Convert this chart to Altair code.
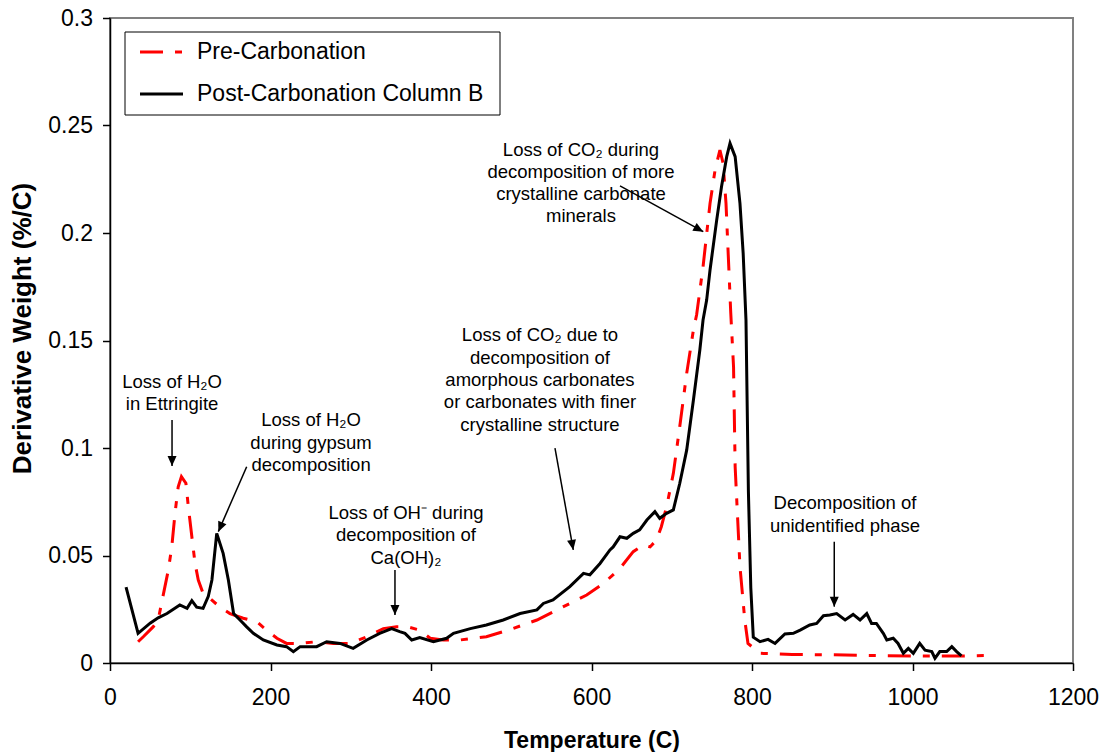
import math
import altair as alt
import pandas as pd

# ---------------- data ----------------
temp_ticks = [0, 200, 400, 600, 800, 1000, 1200]
deriv_ticks = [0, 0.05, 0.1, 0.15, 0.2, 0.25, 0.3]
series_names = ["Pre-Carbonation", "Post-Carbonation Column B"]

post_T = [20, 35, 50, 60, 71, 87, 96, 102, 108, 116,
          122.5, 127, 133, 141, 147.5, 154, 162, 170, 178.6, 191,
          208, 220, 228.5, 237, 257.5, 270, 286.6, 303, 320, 336,
          351, 361, 367.6, 376, 386, 403, 419.5, 428, 449, 469,
          490, 511, 532, 540, 552, 573, 590, 598, 610.6, 623,
          627, 635.5, 644, 652, 660, 669, 679, 685, 693.6, 702,
          710, 718.6, 727, 735, 739, 743.5, 747.7, 756, 762, 768.5,
          772.6, 779, 785, 789, 792.5, 795.5, 798.5, 801.6, 810, 820,
          828.7, 841, 851.5, 860, 872, 880.6, 889, 897, 905.5, 916,
          926, 934.6, 943, 949, 955, 963.6, 968, 976, 982, 988.6,
          994.8, 1001, 1009, 1015.6, 1024, 1028, 1034, 1042.6, 1049, 1055,
          1061]
post_v = [0.0353, 0.0138, 0.0185, 0.021, 0.023, 0.027, 0.0254, 0.029, 0.026, 0.0254,
          0.031, 0.0386, 0.0603, 0.051, 0.0386, 0.023, 0.020, 0.0169, 0.0138, 0.0107,
          0.0084, 0.0076, 0.0053, 0.0076, 0.0076, 0.0099, 0.0091, 0.0068, 0.0107, 0.0138,
          0.016, 0.0146, 0.0138, 0.0107, 0.0118, 0.0099, 0.0115, 0.0138, 0.016, 0.0177,
          0.020, 0.023, 0.0247, 0.0277, 0.0293, 0.0355, 0.0417, 0.041, 0.0463, 0.0526,
          0.054, 0.0587, 0.058, 0.0603, 0.0619, 0.0665, 0.0704, 0.0673, 0.0696, 0.0712,
          0.0836, 0.099, 0.1223, 0.1456, 0.1595, 0.1688, 0.1828, 0.206, 0.2215, 0.2355,
          0.2417, 0.2355, 0.2138, 0.1905, 0.1595, 0.080, 0.035, 0.012, 0.0099, 0.011,
          0.0091, 0.0135, 0.0138, 0.0153, 0.0177, 0.0184, 0.022, 0.0223, 0.023, 0.020,
          0.0226, 0.020, 0.023, 0.0184, 0.0184, 0.0138, 0.0107, 0.0115, 0.0091, 0.0045,
          0.0068, 0.0045, 0.0091, 0.006, 0.0053, 0.0022, 0.0053, 0.0053, 0.0076, 0.0053,
          0.0033]

pre_T = [35, 41.5, 54, 60, 66, 72.7, 77, 81, 85, 89,
         94.6, 97.6, 102, 106, 110, 116, 124.6, 137, 149.5, 166,
         183, 195, 208, 220, 237, 257.5, 278, 299, 320, 340.6,
         357, 370, 386, 399, 415, 436, 469, 502, 532, 573,
         594, 615, 635.5, 652, 664.6, 673, 681, 687, 693.6, 702,
         710, 718.6, 727, 731, 739, 747.7, 754, 760, 764, 767.6,
         770.5, 773.5, 777, 779, 785, 791, 795, 810, 850, 900,
         950, 1000, 1050, 1100]
pre_v = [0.0099, 0.0122, 0.0169, 0.020, 0.031, 0.0433, 0.054, 0.0696, 0.082, 0.0867,
         0.0836, 0.0727, 0.0587, 0.0463, 0.0386, 0.0324, 0.030, 0.026, 0.023, 0.0208,
         0.0192, 0.0153, 0.0115, 0.0091, 0.0091, 0.0099, 0.0091, 0.0091, 0.0122, 0.016,
         0.0169, 0.0169, 0.0153, 0.0115, 0.0107, 0.0107, 0.0122, 0.016, 0.020, 0.0277,
         0.0316, 0.037, 0.044, 0.0518, 0.0549, 0.054, 0.0572, 0.0634, 0.0727, 0.0882,
         0.110, 0.1347, 0.1549, 0.162, 0.1843, 0.2138, 0.2293, 0.2386, 0.2324, 0.2138,
         0.189, 0.163, 0.1378, 0.0913, 0.0448, 0.020, 0.0091, 0.0045, 0.004, 0.0038,
         0.0035, 0.0033, 0.0032, 0.0035]

note_text = ["Loss of H₂O", "in Ettringite",
             "Loss of H₂O", "during gypsum", "decomposition",
             "Loss of OH⁻ during", "decomposition of", "Ca(OH)₂",
             "Loss of CO₂ due to", "decomposition of", "amorphous carbonates",
             "or carbonates with finer", "crystalline structure",
             "Loss of CO₂ during", "decomposition of more", "crystalline carbonate", "minerals",
             "Decomposition of", "unidentified phase"]
note_T = [77.3, 77.3,
          250.5, 250.5, 250.5,
          368.8, 368.8, 368.8,
          535.8, 535.8, 535.8, 535.8, 535.8,
          586.9, 586.9, 586.9, 586.9,
          915.9, 915.9]
note_v = [0.1307, 0.1205,
          0.1130, 0.1023, 0.0921,
          0.0698, 0.0595, 0.0488,
          0.1526, 0.1419, 0.1316, 0.1214, 0.1107,
          0.2386, 0.2284, 0.2181, 0.2079,
          0.0744, 0.0637]

arrow_T1 = [77.3, 170.3, 355.1, 554.5, 635.5, 902.5]
arrow_v1 = [0.113, 0.0913, 0.0433, 0.0999, 0.2219, 0.0564]
arrow_T2 = [77.3, 135.0, 355.1, 577.3, 739.3, 902.5]
arrow_v2 = [0.0916, 0.0611, 0.0223, 0.0526, 0.2006, 0.0262]

# ---------------- layout ----------------
W, H = 963, 645
T_MAX, V_MAX = 1200, 0.3
FONT = "Liberation Sans"

pre_df = pd.DataFrame({"T": pre_T, "v": pre_v})
post_df = pd.DataFrame({"T": post_T, "v": post_v})
note_df = pd.DataFrame({"T": note_T, "v": note_v, "text": note_text})

angles = []
for t1, v1, t2, v2 in zip(arrow_T1, arrow_v1, arrow_T2, arrow_v2):
    dx = (t2 - t1) * W / T_MAX
    dy = -(v2 - v1) * H / V_MAX
    angles.append(math.degrees(math.atan2(dx, -dy)) % 360)
arrow_df = pd.DataFrame({"T1": arrow_T1, "v1": arrow_v1,
                         "T2": arrow_T2, "v2": arrow_v2, "ang": angles})

xscale = alt.Scale(domain=[0, T_MAX], nice=False, zero=False)
yscale = alt.Scale(domain=[0, V_MAX], nice=False, zero=False)

xaxis = alt.Axis(values=temp_ticks, format="d", title="Temperature (C)", grid=False,
                 labelFlush=False, labelOverlap=False,
                 labelFont=FONT, labelFontSize=23, labelColor="black", labelPadding=16,
                 tickSize=7.5, tickColor="black", tickWidth=1.5,
                 domainColor="black", domainWidth=1.5,
                 titleFont=FONT, titleFontSize=23, titleFontWeight="bold", titleColor="black",
                 titleY=66, titleBaseline="top")
yaxis = alt.Axis(values=deriv_ticks, format=".2~f", title="Derivative Weight (%/C)", grid=False,
                 labelFlush=False, labelOverlap=False,
                 labelFont=FONT, labelFontSize=23, labelColor="black", labelPadding=10,
                 tickSize=7.5, tickColor="black", tickWidth=1.5,
                 domainColor="black", domainWidth=1.5,
                 titleFont=FONT, titleFontSize=26, titleFontWeight="bold", titleColor="black",
                 titleX=-88, titleY=310, titleAngle=270, titleBaseline="middle", titleAlign="center")

red = alt.Chart(pre_df).mark_line(color="#FF0000", strokeWidth=3, strokeDash=[23, 12, 7, 12]).encode(
    x=alt.X("T:Q", scale=xscale, axis=xaxis),
    y=alt.Y("v:Q", scale=yscale, axis=yaxis),
)
black = alt.Chart(post_df).mark_line(color="black", strokeWidth=3).encode(
    x=alt.X("T:Q", scale=xscale),
    y=alt.Y("v:Q", scale=yscale),
)

notes = alt.Chart(note_df).mark_text(font=FONT, fontSize=18.5, color="black",
                                     align="center", baseline="middle").encode(
    x=alt.X("T:Q", scale=xscale), y=alt.Y("v:Q", scale=yscale), text="text:N")

arrow_lines = alt.Chart(arrow_df).mark_rule(color="black", strokeWidth=1.5).encode(
    x=alt.X("T1:Q", scale=xscale), y=alt.Y("v1:Q", scale=yscale), x2="T2:Q", y2="v2:Q")
arrow_heads = alt.Chart(arrow_df).mark_point(shape="M0,0L-0.45,1L0.45,1Z", filled=True, size=400,
                                             color="black", opacity=1, strokeWidth=0).encode(
    x=alt.X("T2:Q", scale=xscale), y=alt.Y("v2:Q", scale=yscale),
    angle=alt.Angle("ang:Q", scale=None))

# legend (manual)
one = pd.DataFrame({"k": [0]})
leg_box = alt.Chart(one).mark_rect(fill="white", stroke="black", strokeWidth=1).encode(
    x=alt.value(15), x2=alt.value(390), y=alt.value(14), y2=alt.value(97))
leg_red = alt.Chart(one).mark_rule(color="#FF0000", strokeWidth=3, strokeDash=[23, 12, 7, 12]).encode(
    x=alt.value(30), x2=alt.value(73), y=alt.value(34))
leg_black = alt.Chart(one).mark_rule(color="black", strokeWidth=3).encode(
    x=alt.value(30), x2=alt.value(73), y=alt.value(76))
leg_df = pd.DataFrame({"label": series_names, "ypos": [34, 76]})
leg_text = alt.Chart(leg_df).mark_text(font=FONT, fontSize=23, color="black",
                                       align="left", baseline="middle").encode(
    x=alt.value(87), y=alt.Y("ypos:Q", scale=None), text="label:N")

chart = alt.layer(red, black, arrow_lines, arrow_heads, notes,
                  leg_box, leg_red, leg_black, leg_text).properties(
    width=W, height=H,
    autosize=alt.AutoSizeParams(type="none"),
    padding={"left": 110, "top": 18, "right": 31, "bottom": 89},
    background="white",
).configure_view(stroke="#808080", strokeWidth=2)

chart.save("out.html", embed_options={"renderer": "svg", "actions": False})
